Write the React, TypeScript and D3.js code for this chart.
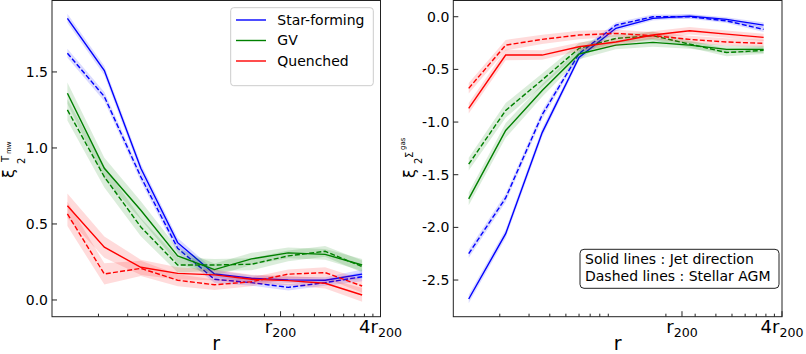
import React from 'react';
import * as d3 from 'd3';

// radial bins (kpc), r200 ~ 250 kpc, plot runs to 4 r200
const radius = [13, 21.7, 36, 60, 100, 167, 278, 464, 775];
const r200 = 250;
const xMin = 10.5;
const xMax = 4 * r200;
const minorTicks = [20, 30, 40, 50, 60, 70, 80, 90, 200, 300, 400, 500, 600, 700, 800, 900];
const majorTicks = [
  { value: r200, pre: '', sub: '200' },
  { value: 4 * r200, pre: '4', sub: '200' },
];

const categories = ['Star-forming', 'GV', 'Quenched'];
const colors = ['blue', 'green', 'red'];

// left panel: xi_2 of T_mw
const tJet = [
  [1.853, 1.509, 0.866, 0.377, 0.171, 0.143, 0.132, 0.13, 0.17],
  [1.36, 0.866, 0.59, 0.29, 0.2, 0.27, 0.31, 0.3, 0.23],
  [0.62, 0.347, 0.215, 0.175, 0.165, 0.136, 0.127, 0.11, 0.033],
];
const tAgm = [
  [1.623, 1.338, 0.81, 0.34, 0.136, 0.114, 0.083, 0.114, 0.153],
  [1.25, 0.81, 0.48, 0.23, 0.23, 0.235, 0.29, 0.32, 0.22],
  [0.566, 0.171, 0.208, 0.13, 0.1, 0.12, 0.17, 0.18, 0.092],
];
const tErr = [
  [0.03, 0.03, 0.03, 0.03, 0.025, 0.02, 0.02, 0.02, 0.03],
  [0.07, 0.07, 0.06, 0.05, 0.04, 0.04, 0.035, 0.035, 0.04],
  [0.08, 0.07, 0.05, 0.04, 0.035, 0.03, 0.03, 0.035, 0.045],
];
const tTicks = [0, 0.5, 1.0, 1.5];

// right panel: xi_2 of Sigma_gas
const sJet = [
  [-2.68, -2.06, -1.1, -0.386, -0.11, -0.016, 0.006, -0.025, -0.08],
  [-1.73, -1.08, -0.7, -0.354, -0.27, -0.244, -0.27, -0.31, -0.31],
  [-0.87, -0.364, -0.364, -0.285, -0.24, -0.174, -0.133, -0.165, -0.196],
];
const sAgm = [
  [-2.25, -1.72, -0.93, -0.35, -0.08, 0.0, 0.0, -0.04, -0.12],
  [-1.4, -0.89, -0.6, -0.3, -0.206, -0.18, -0.26, -0.34, -0.32],
  [-0.68, -0.27, -0.215, -0.174, -0.158, -0.18, -0.215, -0.24, -0.253],
];
const sErr = [
  [0.04, 0.04, 0.04, 0.03, 0.025, 0.02, 0.02, 0.02, 0.025],
  [0.06, 0.07, 0.06, 0.05, 0.04, 0.04, 0.035, 0.035, 0.035],
  [0.05, 0.05, 0.045, 0.04, 0.035, 0.035, 0.035, 0.035, 0.035],
];
const sTicks = [0, -0.5, -1.0, -1.5, -2.0, -2.5];

const FONT = 'DejaVu Sans, sans-serif';

function Panel({ left, right, yDomain, jet, agm, err, yTicks, children }) {
  const top = 0.5;
  const bottom = 316.7;
  const x = d3.scaleLog().domain([xMin, xMax]).range([left, right]);
  const y = d3.scaleLinear().domain(yDomain).range([bottom, top]);
  const line = d3.line<number>().x((d, i) => x(radius[i])).y(d => y(d));
  const band = (vals: number[], e: number[]) =>
    d3.area<number>()
      .x((d, i) => x(radius[i]))
      .y0((d, i) => y(d - e[i]))
      .y1((d, i) => y(d + e[i]))(vals);

  return (
    <g>
      {categories.map((c, k) => (
        <g key={c}>
          <path d={band(jet[k], err[k])} fill={colors[k]} fillOpacity={0.14} />
          <path d={band(agm[k], err[k])} fill={colors[k]} fillOpacity={0.14} />
          <path d={line(jet[k])} fill="none" stroke={colors[k]} strokeWidth={1.4} />
          <path d={line(agm[k])} fill="none" stroke={colors[k]} strokeWidth={1.4} strokeDasharray="5,2.2" />
        </g>
      ))}
      <rect x={left} y={top} width={right - left} height={bottom - top} fill="none" stroke="#222" strokeWidth={1} />
      {yTicks.map(t => (
        <g key={t}>
          <line x1={left} x2={left + 5} y1={y(t)} y2={y(t)} stroke="#222" />
          <text x={left - 4} y={y(t)} dy="0.35em" textAnchor="end" fontSize={14} fontFamily={FONT}>
            {t.toFixed(1)}
          </text>
        </g>
      ))}
      {minorTicks.map(t => (
        <line key={t} x1={x(t)} x2={x(t)} y1={bottom} y2={bottom - 3} stroke="#222" />
      ))}
      {majorTicks.map(t => (
        <g key={t.value}>
          <line x1={x(t.value)} x2={x(t.value)} y1={bottom} y2={bottom - 5.5} stroke="#222" />
          <text x={x(t.value)} y={333} textAnchor="middle" fontFamily={FONT} fontSize={18}>
            {t.pre}r<tspan fontSize={12.6} dy={4}>{t.sub}</tspan>
          </text>
        </g>
      ))}
      <text x={(left + right) / 2} y={350} textAnchor="middle" fontFamily={FONT} fontSize={19}>r</text>
      {children}
    </g>
  );
}

export default function App() {
  return (
    <svg width={806} height={354} style={{ position: 'absolute', left: 0, top: 0, background: '#fff' }}>
      <Panel left={52} right={380.5} yDomain={[-0.11, 1.97]} jet={tJet} agm={tAgm} err={tErr} yTicks={tTicks}>
        <rect x={230.7} y={7.7} width={142.6} height={78} rx={3} fill="#fff" fillOpacity={0.8} stroke="#ccc" />
        {categories.map((c, k) => (
          <g key={c}>
            <line x1={236} x2={266} y1={20 + k * 20.5} y2={20 + k * 20.5} stroke={colors[k]} strokeWidth={1.4} />
            <text x={277.3} y={20 + k * 20.5} dy="0.35em" fontSize={14} fontFamily={FONT}>{c}</text>
          </g>
        ))}
      </Panel>
      <Panel left={453.3} right={782} yDomain={[-2.848, 0.154]} jet={sJet} agm={sAgm} err={sErr} yTicks={sTicks}>
        <rect x={580} y={249.3} width={199} height={39} rx={4} fill="#fff" stroke="#222" strokeWidth={1} />
        <text x={585} y={259.3} dy="0.35em" fontSize={14} fontFamily={FONT}>Solid lines : Jet direction</text>
        <text x={585} y={276} dy="0.35em" fontSize={14} fontFamily={FONT}>Dashed lines : Stellar AGM</text>
      </Panel>
      {/* y labels, rotated */}
      <g fontFamily={FONT}>
        <text transform="translate(14,178) rotate(-90)" fontSize={16}>ξ</text>
        <text transform="translate(25,164) rotate(-90)" fontSize={10}>2</text>
        <text transform="translate(9,162) rotate(-90)" fontSize={10}>T</text>
        <text transform="translate(11,154) rotate(-90)" fontSize={7}>mw</text>
        <text transform="translate(415,178) rotate(-90)" fontSize={16}>ξ</text>
        <text transform="translate(422,164) rotate(-90)" fontSize={10}>2</text>
        <text transform="translate(413,158) rotate(-90)" fontSize={10}>Σ</text>
        <text transform="translate(405,150) rotate(-90)" fontSize={7}>gas</text>
      </g>
    </svg>
  );
}
